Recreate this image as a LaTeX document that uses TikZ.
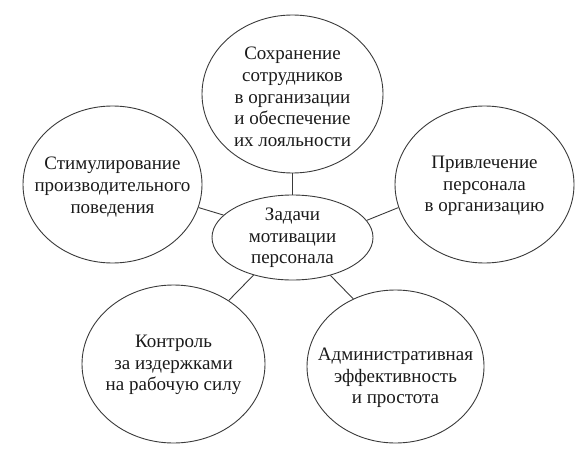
\documentclass[tikz,border=0pt]{standalone}
\usepackage{fontspec}
\setmainfont{Liberation Serif}
\usetikzlibrary{shapes.geometric}
\definecolor{ink}{HTML}{1A1A1A}
\definecolor{edge}{HTML}{3A3A3A}
\tikzset{
  bub/.style={ellipse, draw=edge, line width=0.9pt, inner sep=0pt},
  txt/.style={align=center, inner sep=0pt, text=ink, font=\fontsize{19}{21.7}\selectfont},
  link/.style={draw=edge, line width=0.9pt}
}
\begin{document}
\begin{tikzpicture}[x=1pt, y=-1pt]
\useasboundingbox (0,0) rectangle (585,465);
% bubbles
\node[bub, minimum width=161, minimum height=85] (c) at (292.5,237.5) {};
\node[bub, minimum width=181, minimum height=158] (t) at (292.5,94) {};
\node[bub, minimum width=179, minimum height=157] (l) at (112.5,184.5) {};
\node[bub, minimum width=179, minimum height=157] (r) at (484.5,184.5) {};
\node[bub, minimum width=183, minimum height=158] (bl) at (173.5,364) {};
\node[bub, minimum width=177, minimum height=153] (br) at (395.5,366.5) {};
% texts
\node[txt] (ct) at (292.5,238) {Задачи\\мотивации\\персонала};
\node[txt] (tt) at (292.5,97) {Сохранение\\сотрудников\\в организации\\и обеспечение\\их лояльности};
\node[txt] (lt) at (112.5,187) {Стимулирование\\производительного\\поведения};
\node[txt] (rt) at (484.5,186) {Привлечение\\персонала\\в организацию};
\node[txt] (blt) at (173.5,365) {Контроль\\за издержками\\на рабочую силу};
\node[txt] (brt) at (395.5,378) {Административная\\эффективность\\и простота};
% connectors
\draw[link] (c.90) -- (t.270);
\draw[link] (c.162) -- (l.345);
\draw[link] (c.13) -- (r.195);
\draw[link] (c.224) -- (bl.49);
\draw[link] (c.315) -- (br.122);
\end{tikzpicture}
\end{document}
